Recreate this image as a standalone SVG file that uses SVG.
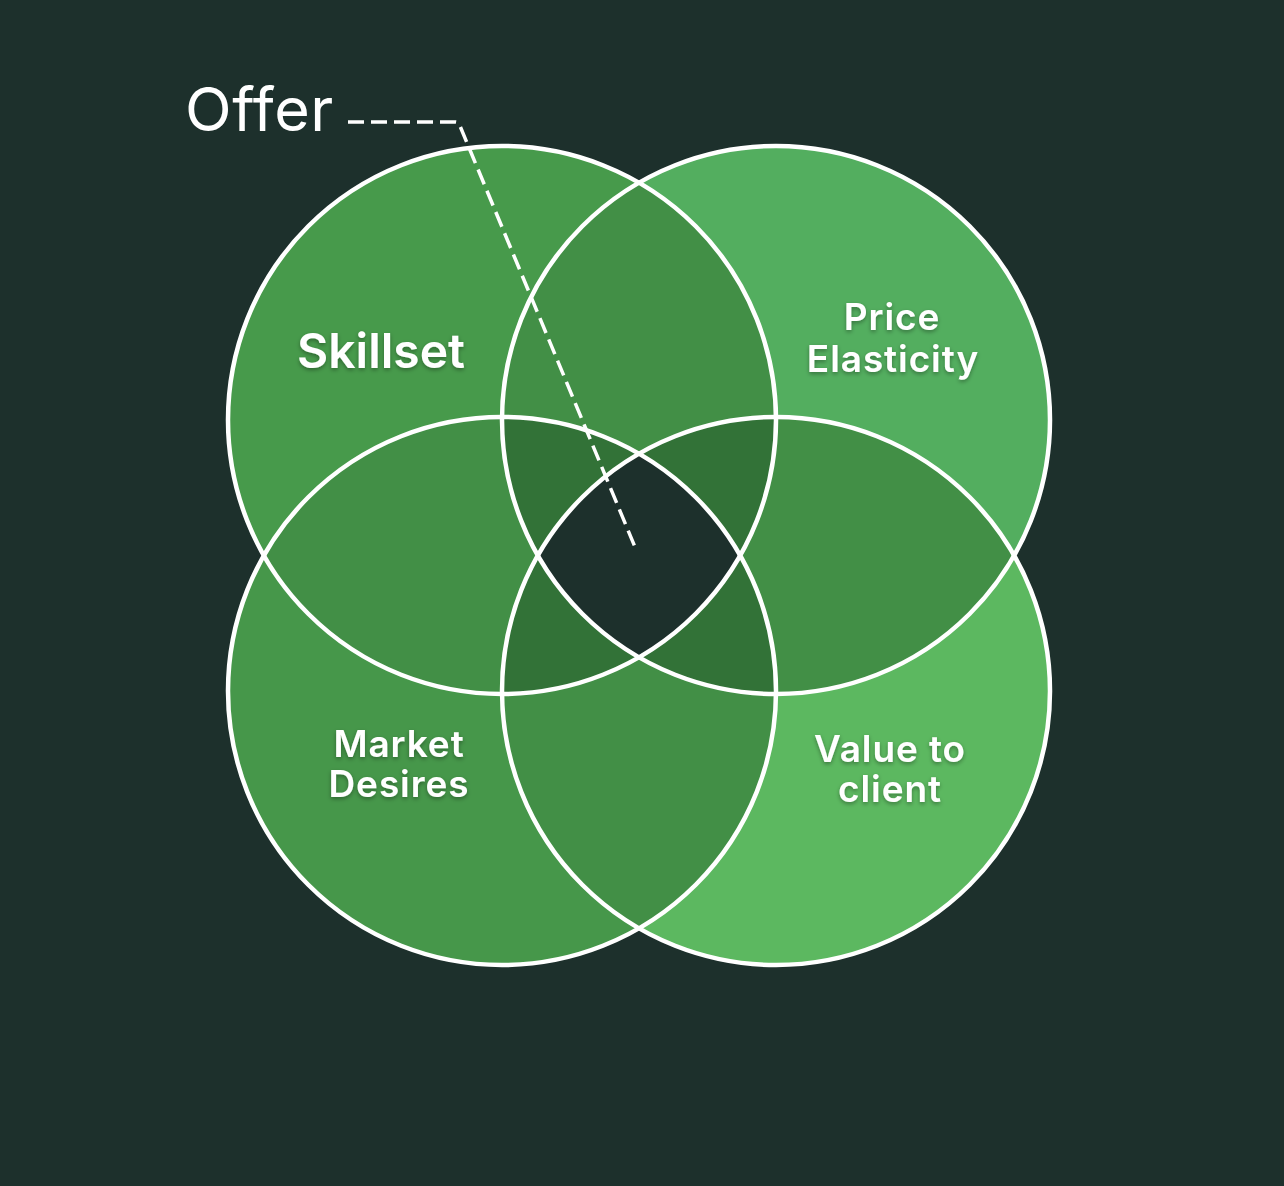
<svg xmlns="http://www.w3.org/2000/svg" width="1284" height="1186" viewBox="0 0 1284 1186">
<style>
.ring{fill:none;stroke:#ffffff;stroke-width:4.5}
.pair{fill:#428f46}
.triple{fill:#327237}
.quad{fill:#1d302c}
.lbl{font-family:Inter,"Noto Sans","Liberation Sans",sans-serif;font-weight:600;fill:#ffffff;text-anchor:middle;filter:url(#sh)}
.sm{font-size:37px;letter-spacing:0.9px}
.offer{font-family:Inter,Roboto,"Liberation Sans",sans-serif;font-weight:400;font-size:61px;letter-spacing:0.5px;fill:#ffffff}
.lead{fill:none;stroke:#ffffff;stroke-width:3.5;stroke-dasharray:16 7}
</style>
<defs>
<filter id="sh" x="-20%" y="-40%" width="140%" height="180%">
<feDropShadow dx="0" dy="2" stdDeviation="2" flood-color="#000000" flood-opacity="0.35"/>
</filter>
<clipPath id="cTL"><circle cx="502" cy="420" r="274"/></clipPath>
<clipPath id="cTR"><circle cx="776" cy="420" r="274"/></clipPath>
<clipPath id="cBL"><circle cx="502" cy="691" r="274"/></clipPath>
<clipPath id="cBR"><circle cx="776" cy="691" r="274"/></clipPath>
</defs>
<rect width="1284" height="1186" fill="#1d302c"/>
<g id="fills">
<circle id="skillset-fill" cx="502" cy="420" r="274" fill="#479a4b"/>
<circle id="price-fill" cx="776" cy="420" r="274" fill="#53ae5f"/>
<circle id="market-fill" cx="502" cy="691" r="274" fill="#46974a"/>
<circle id="value-fill" cx="776" cy="691" r="274" fill="#5cb860"/>
<g clip-path="url(#cTL)"><circle class="pair" cx="776" cy="420" r="274"/><circle class="pair" cx="502" cy="691" r="274"/><circle class="pair" cx="776" cy="691" r="274"/></g>
<g clip-path="url(#cBR)"><circle class="pair" cx="776" cy="420" r="274"/><circle class="pair" cx="502" cy="691" r="274"/></g>
<g clip-path="url(#cTR)"><circle class="pair" cx="502" cy="691" r="274"/></g>
<g clip-path="url(#cTL)"><g clip-path="url(#cTR)"><circle class="triple" cx="502" cy="691" r="274"/><circle class="triple" cx="776" cy="691" r="274"/></g></g>
<g clip-path="url(#cBL)"><g clip-path="url(#cBR)"><circle class="triple" cx="502" cy="420" r="274"/><circle class="triple" cx="776" cy="420" r="274"/></g></g>
<g clip-path="url(#cTL)"><g clip-path="url(#cTR)"><g clip-path="url(#cBL)"><circle class="quad" cx="776" cy="691" r="274"/></g></g></g>
</g>
<g id="node-skillset"><circle class="ring" cx="502" cy="420" r="274"/><text class="lbl" x="381" y="368" font-size="48">Skillset</text></g>
<g id="node-price"><circle class="ring" cx="776" cy="420" r="274"/><text class="lbl sm" x="892" y="330">Price</text><text class="lbl sm" x="893" y="372">Elasticity</text></g>
<g id="node-market"><circle class="ring" cx="502" cy="691" r="274"/><text class="lbl sm" x="399" y="757">Market</text><text class="lbl sm" x="399" y="797">Desires</text></g>
<g id="node-value"><circle class="ring" cx="776" cy="691" r="274"/><text class="lbl sm" x="890" y="762">Value to</text><text class="lbl sm" x="890" y="802">client</text></g>
<g id="node-offer"><text class="offer" x="185" y="131">Offer</text></g>
<g id="connectors"><path class="lead" d="M348,122 H455 Q459,122 460,126 L635,547"/></g>
</svg>
